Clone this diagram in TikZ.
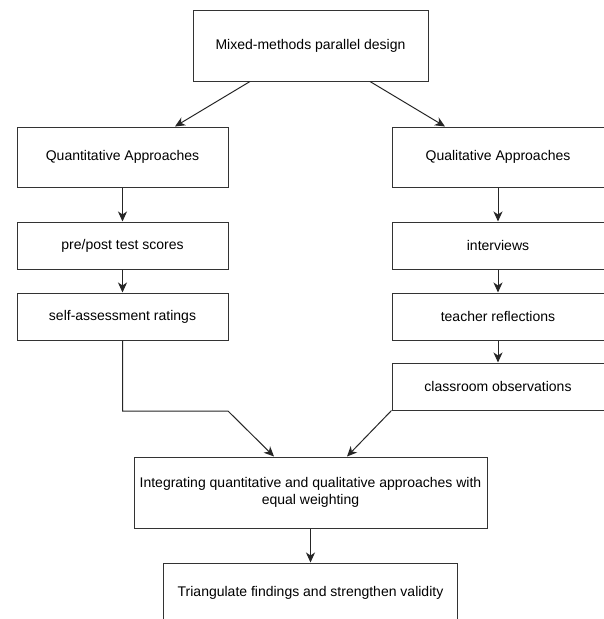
\documentclass[tikz,border=0pt]{standalone}
\usepackage{fontspec}
\setmainfont{Liberation Sans}
\usetikzlibrary{arrows.meta}
\begin{document}
\begin{tikzpicture}[x=1pt,y=-1pt,
  box/.style={draw=black!80, line width=1pt, fill=white, inner sep=0pt, align=center,
    font=\fontsize{14}{17}\selectfont},
  arr/.style={draw=black!85, line width=1pt, -{Stealth[length=10pt,width=9pt,inset=3pt]}}]
\useasboundingbox (0,0) rectangle (603,619);
\fill[white] (0,0) rectangle (603,619);
% boxes
\node[box, minimum width=235pt, minimum height=71pt] (top) at (310.5,45.5) {Mixed-methods parallel design};
\node[box, minimum width=211pt, minimum height=60pt] (quant) at (122.5,157) {Quantitative Approaches};
\node[box, minimum width=212pt, minimum height=60pt] (qual) at (498,157) {Qualitative Approaches};
\node[box, minimum width=211pt, minimum height=47pt] (pre) at (122.5,245.5) {pre/post test scores};
\node[box, minimum width=211pt, minimum height=47pt] (self) at (122.5,316.5) {self-assessment ratings};
\node[box, minimum width=212pt, minimum height=47pt] (inter) at (498,245.5) {interviews};
\node[box, minimum width=212pt, minimum height=47pt] (teach) at (498,316.5) {teacher reflections};
\node[box, minimum width=212pt, minimum height=47pt] (class) at (498,386.5) {classroom observations};
\node[box, minimum width=353pt, minimum height=71pt] (integ) at (310.5,492.5)
  {Integrating quantitative and qualitative approaches with\\equal weighting};
\node[box, minimum width=294pt, minimum height=60pt] (tri) at (310.5,593) {Triangulate findings and strengthen validity};
% connectors
\draw[arr] ([xshift=-60.5pt]top.south) -- ([xshift=52.5pt]quant.north);
\draw[arr] ([xshift=59.5pt]top.south) -- ([xshift=-53pt]qual.north);
\draw[arr] (quant) -- (pre);
\draw[arr] (pre) -- (self);
\draw[arr] (qual) -- (inter);
\draw[arr] (inter) -- (teach);
\draw[arr] (teach) -- (class);
\coordinate (lb1) at (122.5,411);
\coordinate (lb2) at (228,411);
\draw[arr] (self.south) -- (lb1) -- (lb2) -- ([xshift=-36.5pt]integ.north);
\draw[arr] (class.south west) -- ([xshift=36.5pt]integ.north);
\draw[arr] (integ) -- (tri);
\end{tikzpicture}
\end{document}
